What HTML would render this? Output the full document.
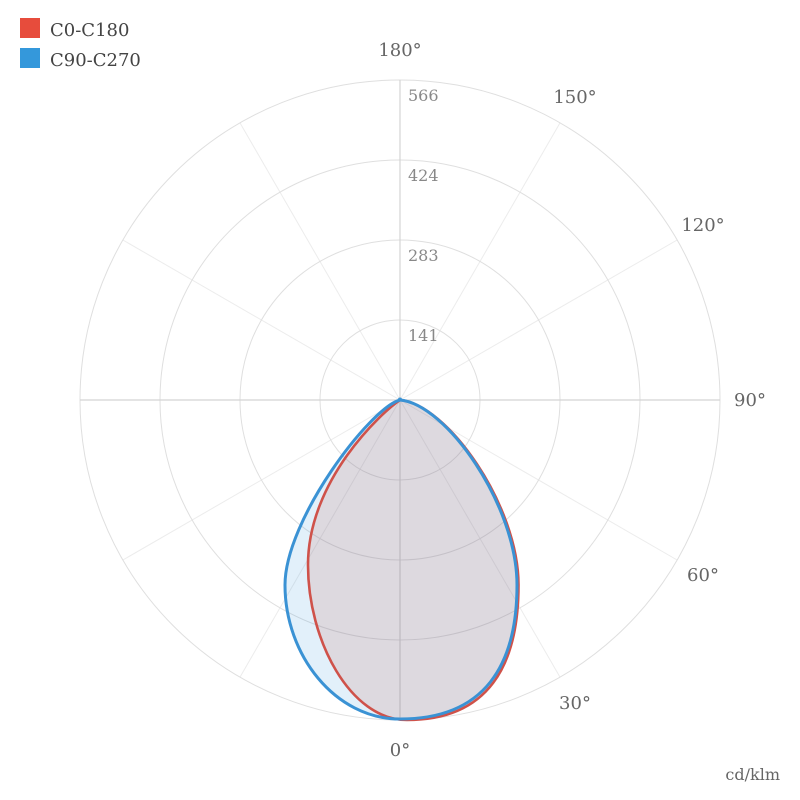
<!DOCTYPE html>
<html><head><meta charset="utf-8"><style>
html,body{margin:0;padding:0;background:#fff;}
svg{display:block;}
text{font-family:"DejaVu Serif","Liberation Serif",serif;}
</style></head><body>
<svg width="800" height="800" viewBox="0 0 800 800" xmlns="http://www.w3.org/2000/svg">
<rect width="800" height="800" fill="#fff"/>
<g fill="none" stroke="#ececec" stroke-width="1">
<line x1="400" y1="400" x2="560" y2="122.9"/>
<line x1="400" y1="400" x2="677.1" y2="240"/>
<line x1="400" y1="400" x2="677.1" y2="560"/>
<line x1="400" y1="400" x2="560" y2="677.1"/>
<line x1="400" y1="400" x2="240" y2="677.1"/>
<line x1="400" y1="400" x2="122.9" y2="560"/>
<line x1="400" y1="400" x2="122.9" y2="240"/>
<line x1="400" y1="400" x2="240" y2="122.9"/>
</g>
<g fill="none" stroke="#dfdfdf" stroke-width="1">
<circle cx="400" cy="400" r="80"/>
<circle cx="400" cy="400" r="160"/>
<circle cx="400" cy="400" r="240"/>
<circle cx="400" cy="400" r="320"/>
</g>
<g stroke="#d4d4d4" stroke-width="1.2">
<line x1="400" y1="80" x2="400" y2="720"/>
<line x1="80" y1="400" x2="720" y2="400"/>
</g>
<path fill="rgba(52,152,219,0.14)" stroke="none" d="M400,400 C446,404 517,505 517,585 C517,665 485,719 400,719 C335,719 285,655 285,585 C285,520 370,408 400,400 Z"/>
<path fill="rgba(193,87,77,0.15)" stroke="none" d="M400,400 C447,404 518.5,505 518.5,585 C518.5,666 488,720 407,720 C350,720 308,640 308,565 C308,480 382,412 400,400 Z"/>
<path fill="none" stroke="#cf524a" stroke-width="2.6" stroke-linejoin="round" d="M400,400 C447,404 518.5,505 518.5,585 C518.5,666 488,720 407,720 C350,720 308,640 308,565 C308,480 382,412 400,400 Z"/>
<path fill="none" stroke="#3a92d4" stroke-width="3" stroke-linejoin="round" d="M400,400 C446,404 517,505 517,585 C517,665 485,719 400,719 C335,719 285,655 285,585 C285,520 370,408 400,400 Z"/>
<circle cx="400" cy="399.5" r="2" fill="#3a92d4"/>
<g font-size="16" fill="#888">
<text x="408" y="101">566</text>
<text x="408" y="181">424</text>
<text x="408" y="261">283</text>
<text x="408" y="341">141</text>
</g>
<g font-size="18" fill="#666" text-anchor="middle">
<text x="400" y="56">180°</text>
<text x="575" y="103">150°</text>
<text x="703" y="231">120°</text>
<text x="750" y="406">90°</text>
<text x="703" y="581">60°</text>
<text x="575" y="709">30°</text>
<text x="400" y="756">0°</text>
</g>
<text x="780" y="780" font-size="16" fill="#666" text-anchor="end">cd/klm</text>
<rect x="20" y="18" width="20" height="20" fill="#e74c3c"/>
<rect x="20" y="48" width="20" height="20" fill="#3498db"/>
<g font-size="18" fill="#444">
<text x="50" y="36">C0-C180</text>
<text x="50" y="66">C90-C270</text>
</g>
</svg>
</body></html>
